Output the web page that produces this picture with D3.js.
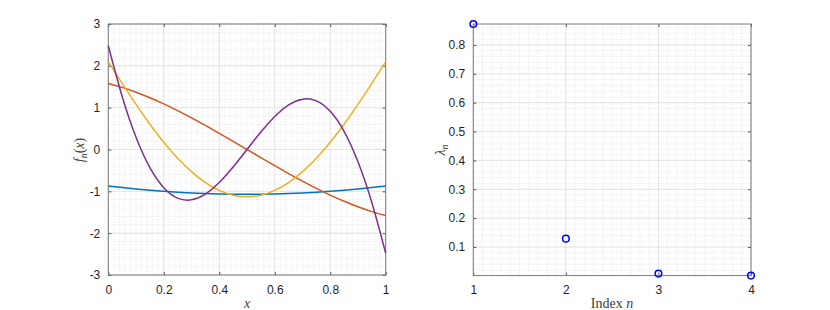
<!DOCTYPE html>
<html><head><meta charset="utf-8">
<script src="https://cdn.jsdelivr.net/npm/d3@7"></script>
<style>
body{margin:0;background:#fff;}
svg{display:block;}
.lab{font-family:"Liberation Serif","Times New Roman",serif;font-size:14px;fill:#404040;}
</style></head>
<body>
<svg id="c" width="830" height="310"></svg>
<script>
// ---- data ----
const xs = [0,0.05,0.1,0.15,0.2,0.25,0.3,0.35,0.4,0.45,0.5,0.55,0.6,0.65,0.7,0.75,0.8,0.85,0.9,0.95,1];
const f1 = [-0.87,-0.908,-0.942,-0.972,-0.998,-1.02,-1.038,-1.052,-1.062,-1.068,-1.07,-1.068,-1.062,-1.052,-1.038,-1.02,-0.998,-0.972,-0.942,-0.908,-0.87];
const f2 = [1.58,1.485,1.37,1.238,1.09,0.929,0.756,0.575,0.387,0.195,0,-0.195,-0.387,-0.575,-0.756,-0.929,-1.09,-1.238,-1.37,-1.485,-1.58];
const f3 = [2.10,1.579,1.077,0.604,0.172,-0.209,-0.53,-0.79,-0.978,-1.092,-1.13,-1.092,-0.978,-0.79,-0.53,-0.209,0.172,0.604,1.077,1.579,2.10];
const f4 = [2.48,1.268,0.293,-0.435,-0.914,-1.163,-1.202,-1.065,-0.789,-0.419,0,0.419,0.789,1.065,1.202,1.163,0.914,0.435,-0.293,-1.268,-2.48];
const seriesColors = ["#0072BD","#D95319","#EDB120","#7E2F8E"];
const nIdx = [1,2,3,4];
const lambda = [0.8725,0.129,0.008,0.001];
const leftXTicks = [0,0.2,0.4,0.6,0.8,1];
const leftYTicks = [-3,-2,-1,0,1,2,3];
const rightXTicks = [1,2,3,4];
const rightYTicks = [0.1,0.2,0.3,0.4,0.5,0.6,0.7,0.8];

const svg = d3.select("#c");

function panel(x0,x1,y0,y1,xdom,ydom,xt,yt,xminor,yminor,xfmt,yfmt){
  const x = d3.scaleLinear().domain(xdom).range([x0,x1]);
  const y = d3.scaleLinear().domain(ydom).range([y1,y0]);
  const g = svg.append("g");
  const xm = d3.range(xdom[0], xdom[1]+1e-9, xminor);
  const ym = d3.range(Math.ceil(ydom[0]/yminor-1e-9)*yminor, ydom[1]+1e-9, yminor);
  g.selectAll(".xm").data(xm).join("line")
    .attr("x1",d=>x(d)).attr("x2",d=>x(d)).attr("y1",y0).attr("y2",y1)
    .attr("stroke","#e2e2e2").attr("stroke-width",0.8).attr("stroke-dasharray","1,1.5");
  g.selectAll(".ym").data(ym).join("line")
    .attr("y1",d=>y(d)).attr("y2",d=>y(d)).attr("x1",x0).attr("x2",x1)
    .attr("stroke","#e2e2e2").attr("stroke-width",0.8).attr("stroke-dasharray","1,1.5");
  g.selectAll(".xg").data(xt).join("line")
    .attr("x1",d=>x(d)).attr("x2",d=>x(d)).attr("y1",y0).attr("y2",y1)
    .attr("stroke","#e0e0e0").attr("stroke-width",0.8);
  g.selectAll(".yg").data(yt).join("line")
    .attr("y1",d=>y(d)).attr("y2",d=>y(d)).attr("x1",x0).attr("x2",x1)
    .attr("stroke","#e0e0e0").attr("stroke-width",0.8);
  const ax = d3.axisBottom(x).tickValues(xt).tickFormat(xfmt).tickSize(-3).tickPadding(10);
  const axT = d3.axisTop(x).tickValues(xt).tickFormat("").tickSize(-3);
  const ay = d3.axisLeft(y).tickValues(yt).tickFormat(yfmt).tickSize(-3).tickPadding(8);
  const ayR = d3.axisRight(y).tickValues(yt).tickFormat("").tickSize(-3);
  const st = s => {
    s.select(".domain").remove();
    s.selectAll(".tick line").attr("stroke","#555");
    s.attr("font-family","'Liberation Sans', Arial, sans-serif").attr("font-size",12);
    s.selectAll(".tick text").attr("fill","#1f1f1f");
  };
  svg.append("g").attr("transform",`translate(0,${y1})`).call(ax).call(st);
  svg.append("g").attr("transform",`translate(0,${y0})`).call(axT).call(st);
  svg.append("g").attr("transform",`translate(${x0},0)`).call(ay).call(st);
  svg.append("g").attr("transform",`translate(${x1},0)`).call(ayR).call(st);
  svg.append("rect").attr("x",x0).attr("y",y0).attr("width",x1-x0).attr("height",y1-y0)
    .attr("fill","none").attr("stroke","#7a7a7a").attr("stroke-width",1);
  return {x,y};
}

// left panel
const L = panel(108.3,385.7,24,275,[0,1],[-3,3],leftXTicks,leftYTicks,0.02,0.2,
  d=>d3.format("")(d), d=>d3.format("")(d).replace("−","-"));
const line = d3.line().x((d,i)=>L.x(xs[i])).y(d=>L.y(d)).curve(d3.curveNatural);
[f1,f2,f3,f4].forEach((f,i)=>{
  svg.append("path").attr("d",line(f)).attr("fill","none")
    .attr("stroke",seriesColors[i]).attr("stroke-width",1.5);
});

// right panel
const R = panel(473.3,751,24,275.6,[1,4],[0.001,0.8725],rightXTicks,rightYTicks,0.1,0.02,
  d=>d3.format("")(d), d=>d3.format(".1f")(d));
svg.selectAll(".pt").data(lambda).join("circle")
  .attr("cx",(d,i)=>R.x(nIdx[i])).attr("cy",d=>R.y(d)).attr("r",3.3)
  .attr("fill","none").attr("stroke","#0000FF").attr("stroke-width",1.5);

// labels
svg.append("text").attr("class","lab").attr("x",247).attr("y",308).attr("text-anchor","middle")
  .attr("font-style","italic").text("x");
const fl = svg.append("text").attr("class","lab").attr("text-anchor","middle")
  .attr("transform","translate(84,150) rotate(-90)");
fl.append("tspan").attr("font-style","italic").text("f");
fl.append("tspan").attr("font-style","italic").attr("font-size","10px").attr("dy",3).text("n");
fl.append("tspan").attr("dy",-3).text("(");
fl.append("tspan").attr("font-style","italic").text("x");
fl.append("tspan").text(")");

const ll = svg.append("text").attr("class","lab").attr("text-anchor","middle")
  .attr("transform","translate(445,150) rotate(-90)");
ll.append("tspan").attr("font-style","italic").text("λ");
ll.append("tspan").attr("font-style","italic").attr("font-size","10px").attr("dy",3).text("n");

const il = svg.append("text").attr("class","lab").attr("x",612).attr("y",308).attr("text-anchor","middle");
il.append("tspan").text("Index ");
il.append("tspan").attr("font-style","italic").text("n");
</script>
</body></html>
